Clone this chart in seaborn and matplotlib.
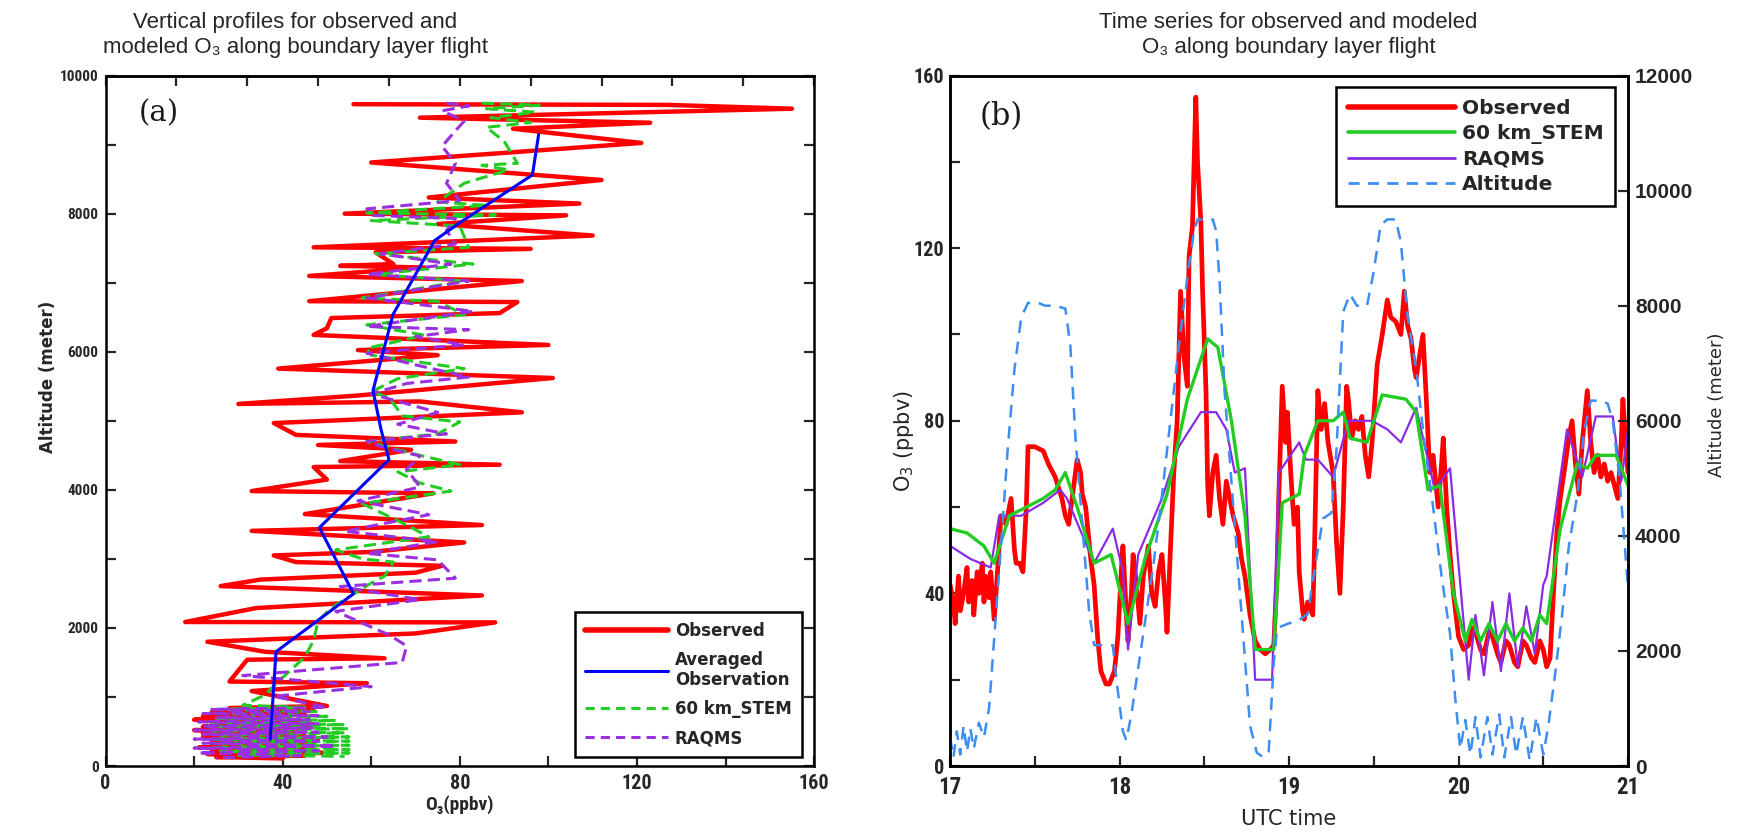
import numpy as np
import pandas as pd
import matplotlib
matplotlib.use("Agg")
import matplotlib.pyplot as plt
import seaborn as sns
from matplotlib.lines import Line2D
from matplotlib.ticker import MultipleLocator, FixedLocator
from matplotlib.font_manager import FontProperties
from matplotlib import font_manager as fm

# ---------------- panel (a): vertical profiles ----------------
obs_prof_alt = [9585, 9575, 9520, 9390, 9317, 9230, 9024, 8741, 8488, 8234,
                8146, 8000, 7975, 7850, 7683, 7512, 7490, 7440, 7270, 7244,
                7220, 7098, 7024, 6732, 6720, 6560, 6488, 6340, 6244, 6098,
                6024, 5950, 5756, 5620, 5366, 5244, 5280, 5122, 4967, 4796,
                4700, 4650, 4580, 4416, 4364, 4330, 4149, 3982, 3950, 3649,
                3490, 3406, 3238, 3100, 3050, 2954, 2900, 2800, 2700, 2606,
                2470, 2288, 2086, 2080, 1920, 1800, 1655, 1560, 1540, 1224,
                1200, 1086, 869, 840, 800, 780, 740, 720, 695, 670,
                640, 620, 600, 570, 550, 520, 500, 470, 440, 420,
                390, 362, 340, 320, 290, 265, 240, 220, 190, 174,
                150, 130, 110]
obs_prof_o3 = [56, 127, 155, 71, 123, 92, 121, 60, 112, 73,
               107, 54, 104, 75, 110, 47, 96, 61, 65, 53,
               72, 46, 94, 46, 93, 89, 51, 50, 47, 100,
               57, 75, 39, 101, 57, 30, 71, 94, 38, 43,
               79, 48, 69, 53, 89, 47, 50, 33, 74, 45,
               85, 33, 81, 60, 38, 43, 76, 70, 35, 26,
               85, 34, 18, 88, 70, 23, 36, 63, 32, 28,
               59, 33, 50, 28, 47, 24, 45, 22, 40, 20,
               44, 24, 47, 22, 46, 20, 42, 22, 45, 22,
               48, 24, 47, 24, 44, 21, 46, 24, 49, 23,
               45, 25, 40]

avg_prof_alt = [385, 1655, 2495, 3453, 4437, 4878, 5439, 6537, 7610, 7878, 8561, 9146]
avg_prof_o3 = [37.2, 38.5, 56.0, 48.3, 64.0, 62.2, 60.4, 64.9, 74.3, 80.2, 96.4, 97.8]

stem_prof_alt = [9600, 9570, 9520, 9470, 9390, 9320, 9250, 9050, 8730, 8700,
                 8634, 8440, 8170, 8120, 8010, 7980, 7900, 7820, 7512, 7420,
                 7270, 7120, 7025, 6780, 6730, 6537, 6390, 6240, 6049, 5950,
                 5756, 5610, 5420, 5340, 5073, 4983, 4810, 4700, 4530, 4364,
                 4260, 4100, 3982, 3800, 3490, 3320, 3130, 3000, 2954, 2750,
                 2650, 2290, 2100, 1820, 1580, 1400, 1224, 1030, 880, 850,
                 820, 790, 760, 720, 690, 660, 630, 600, 570, 540,
                 510, 480, 450, 420, 390, 360, 330, 300, 270, 240,
                 210, 190, 160, 140]
stem_prof_o3 = [85, 98, 86, 97, 87, 96, 86, 90, 93, 85,
                91, 81, 75, 86, 59, 88, 60, 80, 82, 61,
                83, 61, 81, 58, 75, 81, 59, 72, 59, 60,
                81, 66, 60, 64, 67, 80, 75, 59, 69, 80,
                66, 71, 78, 58, 68, 73, 52, 58, 65, 63,
                60, 51, 48, 47, 45, 42, 39, 36, 31, 45,
                25, 48, 28, 50, 25, 52, 24, 54, 25, 55,
                24, 54, 26, 55, 24, 55, 26, 55, 24, 55,
                26, 55, 30, 54]

raqms_prof_alt = [9600, 9560, 9490, 9340, 9200, 8976, 8730, 8440, 8190, 8070,
                  7975, 7930, 7760, 7560, 7420, 7270, 7122, 7025, 6780, 6585,
                  6366, 6320, 6220, 6100, 5980, 5810, 5634, 5540, 5390, 5122,
                  4950, 4810, 4700, 4630, 4490, 4300, 4040, 3840, 3640, 3400,
                  3250, 3080, 2986, 2720, 2600, 2410, 2240, 1900, 1740, 1500,
                  1310, 1150, 1010, 850, 820, 790, 760, 730, 700, 670,
                  640, 610, 580, 550, 520, 490, 460, 420, 390, 360,
                  330, 290, 260, 220, 190, 150, 120]
raqms_prof_o3 = [77, 82, 76, 81, 79, 76, 79, 77, 80, 59,
                 60, 79, 77, 79, 62, 78, 59, 82, 59, 83,
                 59, 82, 70, 81, 59, 70, 82, 68, 60, 75,
                 66, 77, 59, 62, 71, 68, 71, 57, 73, 54,
                 75, 59, 75, 79, 53, 71, 52, 64, 68, 67,
                 31, 60, 38, 50, 24, 46, 22, 48, 25, 46,
                 21, 48, 22, 47, 20, 48, 22, 50, 20, 48,
                 22, 52, 20, 48, 21, 44, 25]

# ---------------- panel (b): time series ----------------
obs_time = [17.00, 17.02, 17.03, 17.05, 17.06, 17.08, 17.10, 17.11, 17.13, 17.14,
            17.16, 17.17, 17.19, 17.20, 17.21, 17.23, 17.24, 17.26, 17.28, 17.30,
            17.33, 17.36, 17.38, 17.39, 17.41, 17.43, 17.45, 17.46, 17.50, 17.55,
            17.58, 17.62, 17.66, 17.68, 17.70, 17.72, 17.75, 17.77, 17.78, 17.80,
            17.83, 17.85, 17.87, 17.89, 17.92, 17.94, 17.97, 17.99, 18.01, 18.02,
            18.04, 18.05, 18.07, 18.08, 18.10, 18.12, 18.14, 18.17, 18.19, 18.21,
            18.23, 18.25, 18.27, 18.28, 18.30, 18.32, 18.34, 18.36, 18.38, 18.40,
            18.41, 18.43, 18.44, 18.45, 18.46, 18.48, 18.49, 18.51, 18.52, 18.53,
            18.55, 18.57, 18.59, 18.61, 18.63, 18.65, 18.67, 18.70, 18.72, 18.74,
            18.77, 18.80, 18.83, 18.86, 18.89, 18.91, 18.93, 18.94, 18.96, 18.98,
            18.99, 19.01, 19.03, 19.05, 19.06, 19.08, 19.09, 19.11, 19.14, 19.15,
            19.17, 19.19, 19.21, 19.23, 19.26, 19.28, 19.30, 19.32, 19.34, 19.35,
            19.37, 19.39, 19.41, 19.43, 19.45, 19.47, 19.49, 19.52, 19.55, 19.58,
            19.60, 19.63, 19.66, 19.68, 19.70, 19.72, 19.74, 19.75, 19.77, 19.79,
            19.81, 19.83, 19.85, 19.88, 19.90, 19.91, 19.93, 19.95, 19.97, 20.00,
            20.03, 20.06, 20.08, 20.10, 20.13, 20.15, 20.18, 20.20, 20.23, 20.25,
            20.28, 20.30, 20.33, 20.35, 20.38, 20.40, 20.43, 20.45, 20.48, 20.50,
            20.52, 20.54, 20.56, 20.58, 20.60, 20.63, 20.65, 20.67, 20.69, 20.71,
            20.73, 20.76, 20.78, 20.80, 20.82, 20.84, 20.86, 20.88, 20.90, 20.92,
            20.94, 20.96, 20.97, 20.99, 21.00]
obs_o3 = [42, 38, 33, 44, 36, 40, 46, 38, 43, 35,
          45, 40, 47, 38, 44, 39, 45, 34, 45, 58,
          56, 62, 50, 47, 47, 45, 60, 74, 74, 73,
          70, 67, 62, 58, 56, 62, 71, 68, 63, 60,
          48, 42, 30, 22, 19, 19, 22, 30, 45, 51,
          35, 29, 40, 49, 42, 33, 44, 51, 40, 37,
          45, 49, 38, 31, 50, 68, 80, 110, 95, 88,
          118, 125, 140, 155, 140, 126, 110, 87, 65, 58,
          68, 72, 62, 56, 66, 62, 58, 54, 48, 44,
          35, 29, 27, 26, 27, 28, 45, 63, 88, 75,
          82, 68, 56, 60, 45, 36, 34, 38, 35, 50,
          87, 78, 84, 75, 68, 52, 40, 60, 88, 85,
          76, 80, 78, 81, 72, 67, 75, 93, 100, 108,
          104, 103, 100, 110, 102, 99, 92, 90, 95, 100,
          85, 68, 72, 60, 70, 76, 60, 49, 40, 30,
          27, 28, 32, 31, 27, 26, 31, 30, 26, 24,
          29, 28, 24, 23, 29, 28, 25, 24, 29, 27,
          23, 25, 40, 54, 62, 70, 76, 80, 70, 63,
          75, 87, 75, 68, 72, 67, 70, 66, 68, 65,
          62, 75, 85, 72, 68]

stem_time = [17.00, 17.10, 17.20, 17.26, 17.35, 17.45, 17.55, 17.62, 17.68, 17.75,
             17.85, 17.95, 18.05, 18.15, 18.28, 18.40, 18.52, 18.58, 18.66, 18.74,
             18.80, 18.91, 18.96, 19.06, 19.09, 19.17, 19.26, 19.32, 19.36, 19.46,
             19.55, 19.69, 19.75, 19.82, 19.89, 19.97, 20.04, 20.08, 20.13, 20.18,
             20.23, 20.28, 20.33, 20.38, 20.43, 20.48, 20.52, 20.60, 20.70, 20.76,
             20.81, 20.93, 21.00]
stem_o3 = [55, 54, 51, 47, 58, 60, 62, 64, 68, 60,
           47, 49, 33, 48, 63, 85, 99, 97, 80, 58,
           27, 27, 61, 63, 72, 80, 80, 82, 76, 75,
           86, 85, 82, 64, 65, 40, 29, 34, 29, 33,
           29, 33, 29, 32, 29, 35, 33, 55, 70, 69,
           72, 72, 65]

raqms_time = [17.00, 17.12, 17.24, 17.29, 17.42, 17.55, 17.65, 17.69, 17.85, 17.96,
              18.02, 18.05, 18.11, 18.25, 18.35, 18.48, 18.57, 18.63, 18.68, 18.74,
              18.80, 18.90, 18.94, 19.06, 19.10, 19.17, 19.26, 19.35, 19.49, 19.58,
              19.66, 19.75, 19.86, 19.95, 20.06, 20.10, 20.15, 20.20, 20.25, 20.30,
              20.35, 20.40, 20.45, 20.50, 20.52, 20.64, 20.73, 20.81, 20.91, 20.96,
              21.00]
raqms_o3 = [51, 48, 46, 58, 58, 61, 64, 62, 47, 55,
            45, 27, 49, 62, 74, 82, 82, 78, 68, 69,
            20, 20, 68, 75, 71, 71, 67, 80, 80, 78,
            75, 83, 64, 69, 20, 35, 21, 38, 22, 40,
            23, 37, 26, 42, 44, 78, 67, 81, 81, 66,
            78]

alt_time = [17.00, 17.02, 17.04, 17.06, 17.08, 17.10, 17.12, 17.14, 17.17, 17.20,
            17.23, 17.26, 17.30, 17.34, 17.38, 17.42, 17.46, 17.52, 17.56, 17.62,
            17.68, 17.71, 17.74, 17.78, 17.82, 17.85, 17.96, 17.99, 18.02, 18.04,
            18.07, 18.10, 18.15, 18.20, 18.25, 18.30, 18.35, 18.40, 18.44, 18.46,
            18.55, 18.57, 18.59, 18.62, 18.66, 18.70, 18.74, 18.77, 18.81, 18.85,
            18.88, 18.91, 18.93, 19.00, 19.05, 19.11, 19.15, 19.20, 19.25, 19.28,
            19.32, 19.36, 19.40, 19.46, 19.50, 19.54, 19.58, 19.63, 19.66, 19.70,
            19.75, 19.80, 19.85, 19.90, 19.95, 19.98, 20.01, 20.04, 20.07, 20.10,
            20.13, 20.17, 20.20, 20.24, 20.27, 20.31, 20.34, 20.38, 20.42, 20.46,
            20.50, 20.53, 20.57, 20.61, 20.65, 20.70, 20.74, 20.78, 20.84, 20.88,
            20.91, 20.95, 21.00]
alt_m = [500, 150, 600, 200, 700, 250, 650, 300, 750, 500,
         1000, 2200, 3800, 5500, 6900, 7800, 8050, 8050, 8000, 8000,
         7950, 7300, 5700, 4200, 2700, 2100, 2100, 1300, 600, 450,
         900, 1500, 2500, 3500, 4700, 6000, 7300, 8500, 9300, 9500,
         9500, 9300, 8440, 6500, 4950, 3400, 1860, 700, 230, 150,
         250, 1800, 2400, 2480, 2520, 2640, 3400, 4300, 4400, 5500,
         7900, 8200, 8000, 8000, 8600, 9400, 9500, 9500, 9100, 7800,
         6900, 5600, 4500, 3300, 2300, 1200, 300, 800, 200, 850,
         150, 850, 200, 900, 150, 850, 200, 850, 100, 850,
         200, 700, 1600, 2600, 3800, 4700, 5800, 6350, 6350, 6300,
         6000, 5000, 3100]

# ---------------- style ----------------
RED = "#ff0000"
BLUE = "#0000ff"
GREEN = "#22cc22"
PURPLE = "#9b30e0"
PURPLE2 = "#8a2be2"
ALTC = "#3d8ef0"
ARIAL = ["Liberation Sans", "DejaVu Sans"]


def pick_narrow():
    cands = [("Liberation Sans Narrow", "normal"), ("Roboto Condensed", "normal"),
             ("DejaVu Sans", "condensed"), ("Open Sans Condensed", "normal")]
    for fam, stretch in cands:
        try:
            path = fm.findfont(FontProperties(family=fam, stretch=stretch, weight="bold"),
                               fallback_to_default=False)
        except Exception:
            continue
        if stretch == "normal" or "ondensed" in path:
            return [fam, "DejaVu Sans"], stretch, 1.0
    return ARIAL, "normal", 0.82


NARROW, NSTRETCH, NSCALE = pick_narrow()

sns.set_theme(style="ticks")
plt.rcParams["font.family"] = ["DejaVu Sans"]
plt.rcParams["axes.linewidth"] = 1.8
plt.rcParams["axes.edgecolor"] = "black"


def fp(family, size, weight="bold", stretch="normal"):
    return FontProperties(family=family, size=size, weight=weight, stretch=stretch)


def nfp(size):
    return fp(NARROW, size * NSCALE, stretch=NSTRETCH)


fig = plt.figure(figsize=(17.41, 8.33), dpi=100)
ax1 = fig.add_axes([0.0606, 0.0804, 0.4070, 0.8289])
ax2 = fig.add_axes([0.5457, 0.0804, 0.3894, 0.8289])
ax3 = ax2.twinx()

# ---------- panel (a) ----------
df_obs = pd.DataFrame({"o3": obs_prof_o3, "alt": obs_prof_alt})
df_stem = pd.DataFrame({"o3": stem_prof_o3, "alt": stem_prof_alt})
df_raq = pd.DataFrame({"o3": raqms_prof_o3, "alt": raqms_prof_alt})
df_avg = pd.DataFrame({"o3": avg_prof_o3, "alt": avg_prof_alt})

sns.lineplot(data=df_obs, x="o3", y="alt", sort=False, estimator=None,
             color=RED, lw=3.2, ax=ax1)
sns.lineplot(data=df_stem, x="o3", y="alt", sort=False, estimator=None,
             color=GREEN, lw=2.2, linestyle=(0, (4, 2)), ax=ax1)
sns.lineplot(data=df_raq, x="o3", y="alt", sort=False, estimator=None,
             color=PURPLE, lw=2.2, linestyle=(0, (4, 2)), ax=ax1)
sns.lineplot(data=df_avg, x="o3", y="alt", sort=False, estimator=None,
             color=BLUE, lw=2.2, ax=ax1)

ax1.set_xlim(0, 160)
ax1.set_ylim(0, 10000)
ax1.xaxis.set_major_locator(MultipleLocator(40))
ax1.xaxis.set_minor_locator(MultipleLocator(20))
ax1.yaxis.set_major_locator(MultipleLocator(2000))
ax1.yaxis.set_minor_locator(MultipleLocator(1000))
ax1.tick_params(which="both", direction="in", length=7, width=1.6,
                right=True, top=False)
ax1.tick_params(axis="y", pad=5)
ax1.tick_params(axis="x", pad=6)
sec = ax1.secondary_xaxis("top")
sec.xaxis.set_major_locator(FixedLocator(np.arange(0, 161, 16)))
sec.tick_params(direction="in", length=7, width=1.6, labeltop=False)
sec.spines["top"].set_linewidth(1.8)
for lab in ax1.get_yticklabels():
    lab.set_fontproperties(nfp(11))
for lab in ax1.get_xticklabels():
    lab.set_fontproperties(nfp(14.5))
ax1.set_xlabel("O\u2083(ppbv)", fontproperties=nfp(14))
ax1.xaxis.set_label_coords(0.5, -0.042)
ax1.set_ylabel("Altitude (meter)", fontproperties=fp(["DejaVu Sans"], 12))
ax1.yaxis.set_label_coords(-0.068, 0.563)
ax1.text(0.075, 0.945, "(a)", transform=ax1.transAxes, ha="center", va="center",
         fontsize=21, family=["DejaVu Serif"], color="#1a1a1a")

leg_a = [Line2D([], [], color=RED, lw=4),
         Line2D([], [], color=BLUE, lw=2.2),
         Line2D([], [], color=GREEN, lw=2.2, linestyle=(0, (3, 2))),
         Line2D([], [], color=PURPLE, lw=2.2, linestyle=(0, (3, 2)))]
la = ax1.legend(leg_a, ["Observed", "Averaged\nObservation", "60 km_STEM", "RAQMS"],
                loc="lower right", bbox_to_anchor=(0.9825, 0.013), borderaxespad=0,
                prop=fp(["DejaVu Sans"], 12), frameon=True, fancybox=False,
                framealpha=1, edgecolor="black", handlelength=5.0,
                borderpad=0.6, labelspacing=0.65, handletextpad=0.4)
la.get_frame().set_linewidth(1.8)

# ---------- panel (b) ----------
df_tobs = pd.DataFrame({"t": obs_time, "o3": obs_o3})
df_tstem = pd.DataFrame({"t": stem_time, "o3": stem_o3})
df_traq = pd.DataFrame({"t": raqms_time, "o3": raqms_o3})
df_alt = pd.DataFrame({"t": alt_time, "alt": alt_m})

sns.lineplot(data=df_tobs, x="t", y="o3", color=RED, lw=3.4, estimator=None, ax=ax2)
sns.lineplot(data=df_traq, x="t", y="o3", color=PURPLE2, lw=1.6, estimator=None, ax=ax2)
sns.lineplot(data=df_tstem, x="t", y="o3", color=GREEN, lw=2.4, estimator=None, ax=ax2)
sns.lineplot(data=df_alt, x="t", y="alt", color=ALTC, lw=1.8,
             linestyle=(0, (5, 3.5)), estimator=None, ax=ax3)

ax2.set_xlim(17, 21)
ax2.set_ylim(0, 160)
ax3.set_ylim(0, 12000)
ax2.xaxis.set_major_locator(MultipleLocator(1))
ax2.xaxis.set_minor_locator(MultipleLocator(0.5))
ax2.yaxis.set_major_locator(MultipleLocator(40))
ax2.yaxis.set_minor_locator(MultipleLocator(20))
ax3.yaxis.set_major_locator(MultipleLocator(2000))
ax2.tick_params(which="both", direction="in", length=7, width=1.6,
                right=False, top=False)
ax2.tick_params(axis="x", pad=7)
ax2.tick_params(axis="y", pad=4)
ax3.tick_params(which="both", direction="in", length=7, width=1.6, pad=5)
for lab in ax2.get_xticklabels():
    lab.set_fontproperties(nfp(16.5))
for lab in ax2.get_yticklabels():
    lab.set_fontproperties(nfp(14.5))
for lab in ax3.get_yticklabels():
    lab.set_fontproperties(fp(ARIAL, 15))
for sp in ax3.spines.values():
    sp.set_linewidth(1.8)
ax2.set_xlabel("UTC time", fontsize=15)
ax2.xaxis.set_label_coords(0.5, -0.062)
ax2.set_ylabel("O$_3$ (ppbv)", fontsize=15)
ax2.yaxis.set_label_coords(-0.05, 0.47)
ax3.set_ylabel("Altitude (meter)", fontsize=13)
ax3.yaxis.set_label_coords(1.118, 0.523)
ax2.text(0.075, 0.94, "(b)", transform=ax2.transAxes, ha="center", va="center",
         fontsize=22, family=["DejaVu Serif"], color="#1a1a1a")

leg_b = [Line2D([], [], color=RED, lw=4),
         Line2D([], [], color=GREEN, lw=2.6),
         Line2D([], [], color=PURPLE2, lw=2),
         Line2D([], [], color=ALTC, lw=2, linestyle=(0, (4, 3)))]
lb = ax3.legend(leg_b, ["Observed", "60 km_STEM", "RAQMS", "Altitude"],
                loc="upper right", bbox_to_anchor=(0.9815, 0.984), borderaxespad=0,
                prop=fp(["DejaVu Sans"], 14.5), frameon=True, fancybox=False,
                framealpha=1, edgecolor="black", handlelength=5.3,
                borderpad=0.6, labelspacing=0.3, handletextpad=0.35)
lb.get_frame().set_linewidth(1.8)

# ---------- titles ----------
fig.text(0.1696, 0.986, "Vertical profiles for observed and\nmodeled O\u2083 along boundary layer flight",
         ha="center", va="top", fontsize=16, family=ARIAL, linespacing=1.3)
fig.text(0.740, 0.986, "Time series for observed and modeled\nO\u2083 along boundary layer flight",
         ha="center", va="top", fontsize=16, family=ARIAL, linespacing=1.3)

fig.savefig("out.png", dpi=100)
